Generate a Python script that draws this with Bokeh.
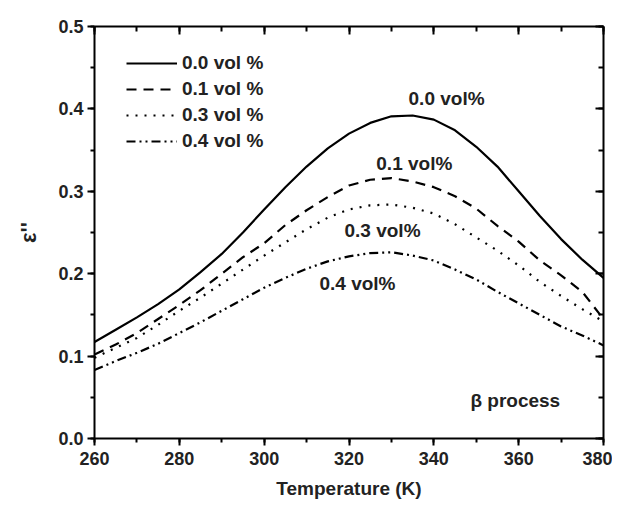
from bokeh.plotting import figure
from bokeh.models import (Range1d, LinearAxis, SingleIntervalTicker, PrintfTickFormatter,
                          Legend, LegendItem, Label, CustomJSTickFormatter)
from bokeh.embed import file_html
from bokeh.resources import INLINE

# ---- data ----
temperature = [260, 265, 270, 275, 280, 285, 290, 295, 300, 305, 310, 315, 320,
               325, 330, 335, 340, 345, 350, 355, 360, 365, 370, 375, 380]
eps_00 = [0.117, 0.132, 0.147, 0.163, 0.181, 0.202, 0.224, 0.250, 0.278, 0.305, 0.330, 0.352, 0.370,
          0.383, 0.391, 0.392, 0.387, 0.374, 0.354, 0.330, 0.300, 0.270, 0.242, 0.217, 0.195]
eps_01 = [0.102, 0.114, 0.128, 0.145, 0.162, 0.180, 0.200, 0.220, 0.237, 0.259, 0.277, 0.293, 0.307,
          0.314, 0.316, 0.312, 0.305, 0.294, 0.279, 0.258, 0.239, 0.216, 0.198, 0.178, 0.145]
eps_03 = [0.098, 0.110, 0.122, 0.138, 0.155, 0.171, 0.188, 0.205, 0.222, 0.238, 0.254, 0.268, 0.278,
          0.283, 0.284, 0.280, 0.273, 0.260, 0.244, 0.228, 0.210, 0.190, 0.173, 0.157, 0.142]
eps_04 = [0.083, 0.094, 0.104, 0.115, 0.128, 0.141, 0.155, 0.169, 0.183, 0.195, 0.206, 0.215, 0.221,
          0.225, 0.226, 0.222, 0.216, 0.205, 0.193, 0.178, 0.164, 0.150, 0.136, 0.125, 0.113]

series_values = [eps_00, eps_01, eps_03, eps_04]
legend_labels = ["0.0 vol %", "0.1 vol %", "0.3 vol %", "0.4 vol %"]
dashes = ["solid", "10 7", "2 7", "9 4 2 4 2 4"]

annot_texts = ["0.0 vol%", "0.1 vol%", "0.3 vol%", "0.4 vol%", "β process"]
annot_x = [343, 335.4, 327.9, 322, 359.2]
annot_y = [0.413, 0.334, 0.252, 0.188, 0.046]

FONT = "Liberation Sans"

p = figure(width=612, height=501, output_backend="svg", toolbar_location=None,
           x_range=Range1d(260, 380), y_range=Range1d(0, 0.5),
           min_border_left=94, min_border_right=9, min_border_top=26, min_border_bottom=63,
           x_axis_label="Temperature (K)", y_axis_label="ε''")
p.grid.visible = False
p.outline_line_color = None
p.background_fill_color = "white"
p.border_fill_color = "white"

xt = SingleIntervalTicker(interval=20, num_minor_ticks=2)
yt = SingleIntervalTicker(interval=0.1, num_minor_ticks=2)

for ax in [p.xaxis[0], p.yaxis[0]]:
    ax.axis_line_width = 2
    ax.major_tick_line_width = 2
    ax.minor_tick_line_width = 2
    ax.major_tick_in = 0
    ax.major_tick_out = 7
    ax.minor_tick_in = 0
    ax.minor_tick_out = 4
    ax.major_label_text_font = FONT
    ax.major_label_text_font_style = "bold"
    ax.major_label_text_font_size = "18px"
    ax.major_label_text_color = "#222222"
    ax.axis_label_text_font = FONT
    ax.axis_label_text_font_style = "bold"
    ax.axis_label_text_font_size = "19px"
    ax.axis_label_text_color = "#222222"

p.xaxis[0].ticker = xt
p.yaxis[0].ticker = yt
p.yaxis[0].formatter = PrintfTickFormatter(format="%.1f")
p.xaxis[0].major_label_standoff = 6
p.xaxis[0].axis_label_standoff = 10
p.yaxis[0].major_label_standoff = 4
p.yaxis[0].axis_label_standoff = 14
p.yaxis[0].axis_label_text_font_size = "22px"

top = LinearAxis(ticker=SingleIntervalTicker(interval=20, num_minor_ticks=2))
right = LinearAxis(ticker=SingleIntervalTicker(interval=0.1, num_minor_ticks=2))
for ax in [top, right]:
    ax.axis_line_width = 2
    ax.major_tick_line_width = 2
    ax.minor_tick_line_width = 2
    ax.major_tick_in = 8
    ax.major_tick_out = 0
    ax.minor_tick_in = 5
    ax.minor_tick_out = 0
    ax.formatter = CustomJSTickFormatter(code="return ''")
    ax.major_label_text_font_size = "1px"
    ax.major_label_standoff = 0
p.add_layout(top, "above")
p.add_layout(right, "right")

items = []
for vals, lab, dash in zip(series_values, legend_labels, dashes):
    r = p.line(temperature, vals, line_color="black", line_width=2.2, line_dash=dash,
               line_join="round")
    items.append(LegendItem(label=lab, renderers=[r]))

legend = Legend(items=items, location=(32, 284), glyph_width=51, glyph_height=26,
                label_standoff=5, spacing=0, padding=0, margin=0,
                border_line_color=None, background_fill_alpha=0,
                label_text_font=FONT, label_text_font_style="bold",
                label_text_font_size="19px", label_text_color="#222222",
                label_height=26)
p.add_layout(legend, "center")

for t, x, y in zip(annot_texts, annot_x, annot_y):
    p.add_layout(Label(x=x, y=y, text=t, text_align="center", text_baseline="middle",
                       text_font=FONT, text_font_style="bold", text_font_size="19px",
                       text_color="#222222"))

open("out.html", "w").write(file_html(p, INLINE))
